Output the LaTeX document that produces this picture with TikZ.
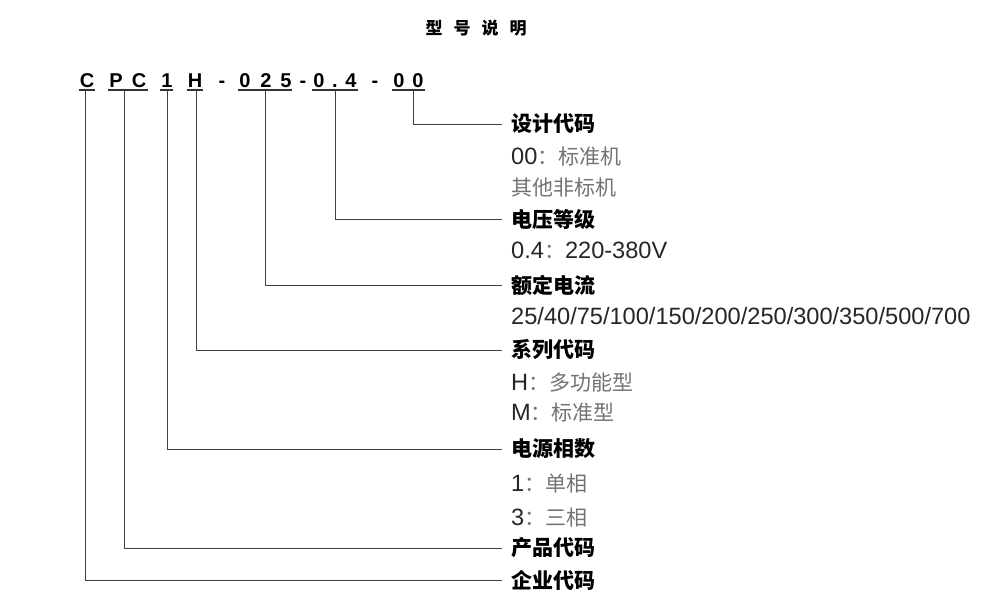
\documentclass[tikz,border=0pt]{standalone}
\usepackage{fontspec}
\setmainfont{Liberation Sans}
\newfontfamily\cjk{Noto Sans CJK SC}
\usepackage{tikz}

\newcommand{\zhg}[1]{\textcolor{black!55}{\fontsize{21}{21}\selectfont\cjk #1}}

\begin{document}
\begin{tikzpicture}[x=1pt,y=-1pt,
  codechar/.style={font=\fontsize{20}{20}\selectfont\bfseries,inner sep=0pt,anchor=base},
  head/.style={font=\fontsize{21}{21}\selectfont\cjk\bfseries,anchor=west,inner xsep=9pt,inner ysep=0pt},
  sub/.style={font=\fontsize{23.6}{23.6}\selectfont,text=black!85,anchor=west,inner xsep=9pt,inner ysep=0pt},
  uline/.style={line width=1.3pt,black!80},
  lead/.style={line width=0.9pt,black!75}]
\useasboundingbox (0,0) rectangle (1000,600);
\node[font=\fontsize{17}{17}\selectfont\cjk\bfseries] (title) at (476,28) {型\hspace{11pt}号\hspace{11pt}说\hspace{11pt}明};
\foreach \ch/\x [count=\i] in {C/87,P/116,C/139,1/167,H/195,-/222,0/245,2/266,5/286,-/303,0/319,./335,4/351,-/375,0/399,0/418}
\node[codechar] (c\i) at (\x,87) {\ch};
\foreach \a/\b in {79/95,108/148,160/173,187/203,238/292,312/358,392/425}
\draw[uline] (\a,90) -- (\b,90);
\foreach \name/\x in {qy/85,cp/124,xs/167,xl/196,dl/265,dy/335,sj/413}
\coordinate (u\name) at (\x,90);
\node[head] (sj) at (502,124) {设计代码};
\node[sub] (sj1) at (502,157) {00\zhg{：标准机}};
\node[sub] (sj2) at (502,188) {\zhg{其他非标机}};
\node[head] (dy) at (502,219) {电压等级};
\node[sub] (dy1) at (502,250) {0.4\zhg{：}220-380V};
\node[head] (dl) at (502,285) {额定电流};
\node[sub] (dl1) at (502,316) {25/40/75/100/150/200/250/300/350/500/700};
\node[head] (xl) at (502,350) {系列代码};
\node[sub] (xl1) at (502,383) {H\zhg{：多功能型}};
\node[sub] (xl2) at (502,413) {M\zhg{：标准型}};
\node[head] (xs) at (502,449) {电源相数};
\node[sub] (xs1) at (502,483) {1\zhg{：单相}};
\node[sub] (xs2) at (502,517) {3\zhg{：三相}};
\node[head] (cp) at (502,548) {产品代码};
\node[head] (qy) at (502,580) {企业代码};
\foreach \from/\to in {usj/sj,udy/dy,udl/dl,uxl/xl,uxs/xs,ucp/cp,uqy/qy}
\draw[lead] (\from) |- (\to.west);
\end{tikzpicture}
\end{document}
